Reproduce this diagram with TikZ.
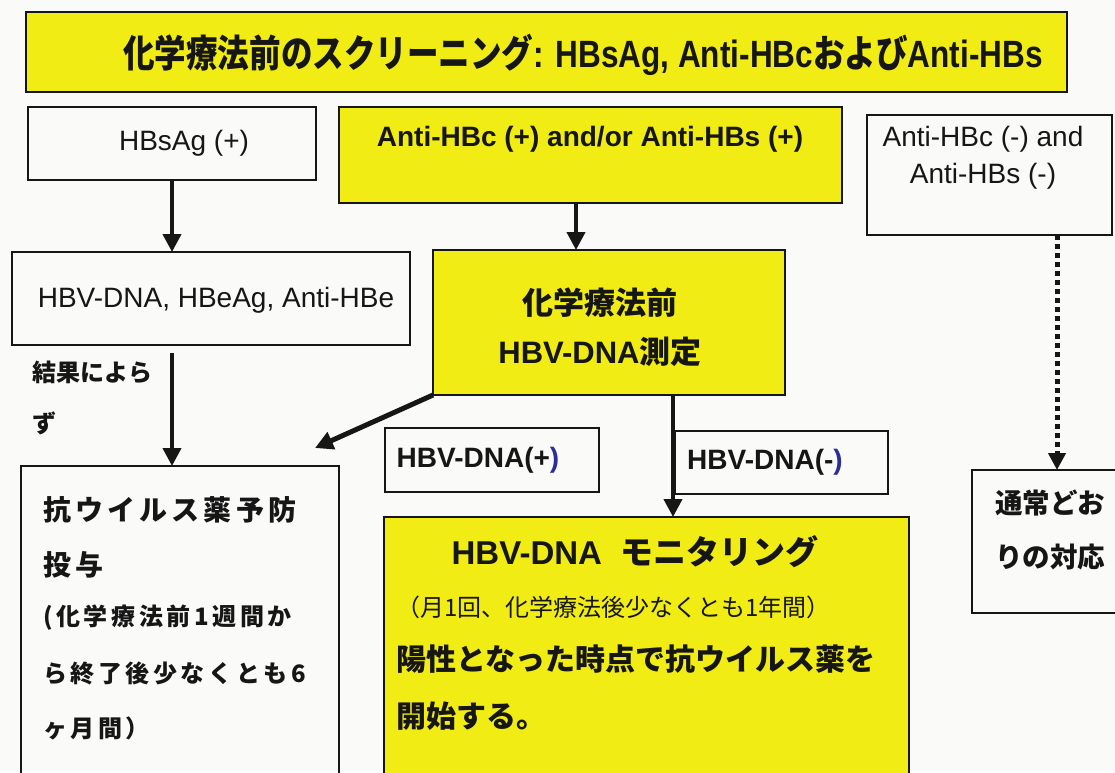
\documentclass[tikz,border=0pt]{standalone}
\usepackage{fontspec}
\usepackage{graphicx}
\setmainfont{Liberation Sans}
\newfontfamily\jp{Noto Sans CJK JP}
\newfontfamily\jpsp{Noto Sans CJK JP}[LetterSpace=15]
\usetikzlibrary{arrows.meta,calc}
\definecolor{hy}{RGB}{240,236,20}
\definecolor{paper}{RGB}{250,250,248}
\definecolor{ink}{RGB}{22,22,22}
\definecolor{navy}{RGB}{45,45,150}
\begin{document}
\begin{tikzpicture}[x=1pt,y=-1pt,
 box/.style={draw=ink,line width=2pt,inner sep=0pt,outer sep=0pt},
 ybox/.style={box,fill=hy},
 wbox/.style={box},
 txt/.style={inner sep=0pt,outer sep=0pt,text=ink,align=center},
 ltxt/.style={inner sep=0pt,outer sep=0pt,text=ink,align=left,anchor=west},
 arr/.style={draw=ink,line width=4pt,-{Triangle[length=18pt,width=18pt]}},
 dotarr/.style={draw=ink,line width=5pt,dash pattern=on 5pt off 4pt,-{Triangle[length=17pt,width=17pt]}}
]
\useasboundingbox (0,0) rectangle (1115,772);
\fill[paper] (0,0) rectangle (1115,772);
\clip (0,0) rectangle (1115,772);

% boxes
\node[ybox,minimum width=1041pt,minimum height=80pt] (top) at (546.5,52) {};
\node[wbox,minimum width=288pt,minimum height=73pt] (hbsag) at (172,143.5) {};
\node[ybox,minimum width=503pt,minimum height=96pt] (antip) at (590.5,155) {};
\node[wbox,minimum width=245pt,minimum height=120pt] (antin) at (989.5,175) {};
\node[wbox,minimum width=398pt,minimum height=93pt] (hbvdna) at (211,298.5) {};
\node[ybox,minimum width=352pt,minimum height=145pt] (pre) at (609,322.5) {};
\node[wbox,minimum width=318pt,minimum height=324pt] (antiviral) at (180,628) {};
\node[wbox,minimum width=214pt,minimum height=64pt] (plus) at (492,460) {};
\node[wbox,minimum width=213pt,minimum height=63pt] (minus) at (781.5,462.5) {};
\node[ybox,minimum width=525pt,minimum height=273pt] (mon) at (646.5,653.5) {};
\node[wbox,minimum width=153pt,minimum height=143pt] (tsujo) at (1048.5,541.5) {};

% texts
\node[txt,font=\fontsize{38}{44}\selectfont\bfseries] (ttop) at (583,55) {\scalebox{0.83}[1]{{\jp 化学療法前のスクリーニング}: HBsAg, Anti-HBc{\jp および}Anti-HBs}};
\node[txt,font=\fontsize{28}{34}\selectfont] (thbsag) at (184,143) {HBsAg (+)};
\node[txt,font=\fontsize{28}{34}\selectfont\bfseries] (tantip) at (590,139) {Anti-HBc (+) and/or Anti-HBs (+)};
\node[txt,font=\fontsize{28}{37}\selectfont] (tantin) at (983,157.5) {Anti-HBc (-) and\\Anti-HBs (-)};
\node[txt,font=\fontsize{28}{34}\selectfont] (thbvdna) at (216,300) {HBV-DNA, HBeAg, Anti-HBe};
\node[txt,font=\fontsize{31}{49}\selectfont\bfseries] (tpre) at (600,327.5) {{\jp 化学療法前}\\HBV-DNA{\jp 測定}};
\node[ltxt,font=\fontsize{24}{51}\selectfont\bfseries\jp] (tkekka) at (32,397.5) {結果によら\\ず};
\node[ltxt,font=\fontsize{28}{34}\selectfont\bfseries\jpsp] (av1) at (43,510) {抗ウイルス薬予防};
\node[ltxt,font=\fontsize{28}{34}\selectfont\bfseries\jpsp] (av2) at (43,565) {投与};
\node[ltxt,font=\fontsize{24}{30}\selectfont\bfseries\jpsp] (av3) at (43,618) {(化学療法前1週間か};
\node[ltxt,font=\fontsize{24}{30}\selectfont\bfseries\jpsp] (av4) at (43,673) {ら終了後少なくとも6};
\node[ltxt,font=\fontsize{24}{30}\selectfont\bfseries\jpsp] (av5) at (43,728) {ヶ月間）};
\node[txt,font=\fontsize{28}{34}\selectfont\bfseries] (tplus) at (478,460) {HBV-DNA(+\textcolor{navy}{)}};
\node[txt,font=\fontsize{28}{34}\selectfont\bfseries] (tminus) at (765,462) {HBV-DNA(-\textcolor{navy}{)}};
\node[txt,font=\fontsize{33}{40}\selectfont\bfseries] (tmon1) at (635,552) {HBV-DNA\ \ {\jp モニタリング}};
\node[ltxt,font=\fontsize{24}{30}\selectfont\jp] (tmon2) at (396,607) {（月1回、化学療法後少なくとも1年間）};
\node[ltxt,font=\fontsize{30}{36}\selectfont\bfseries\jp] (tmon3) at (396,659) {陽性となった時点で抗ウイルス薬を};
\node[ltxt,font=\fontsize{30}{36}\selectfont\bfseries\jp] (tmon4) at (396,716) {開始する。};
\node[ltxt,font=\fontsize{27.5}{34}\selectfont\bfseries\jp] (tts1) at (995,503) {通常どお};
\node[ltxt,font=\fontsize{27.5}{34}\selectfont\bfseries\jp] (tts2) at (995,557) {りの対応};

% connectors
\coordinate (a2s) at ($(antip.south)+(-14.5,0)$);
\coordinate (a3s) at ($(hbsag.south |- hbvdna.south)+(0,8)$);
\coordinate (a5s) at ($(pre.south)+(64,0)$);
\coordinate (dots) at ($(antin.south)+(67.5,0)$);
\coordinate (diagtip) at (315,448);
\draw[arr] (hbsag.south) -- (hbsag.south |- hbvdna.north);
\draw[arr] (a2s) -- (a2s |- pre.north);
\draw[arr] (a3s) -- (a3s |- antiviral.north);
\draw[arr,line width=5pt] (pre.south west) -- (diagtip);
\draw[arr] (a5s) -- (a5s |- mon.north);
\draw[dotarr] (dots) -- (dots |- tsujo.north);
\end{tikzpicture}
\end{document}
